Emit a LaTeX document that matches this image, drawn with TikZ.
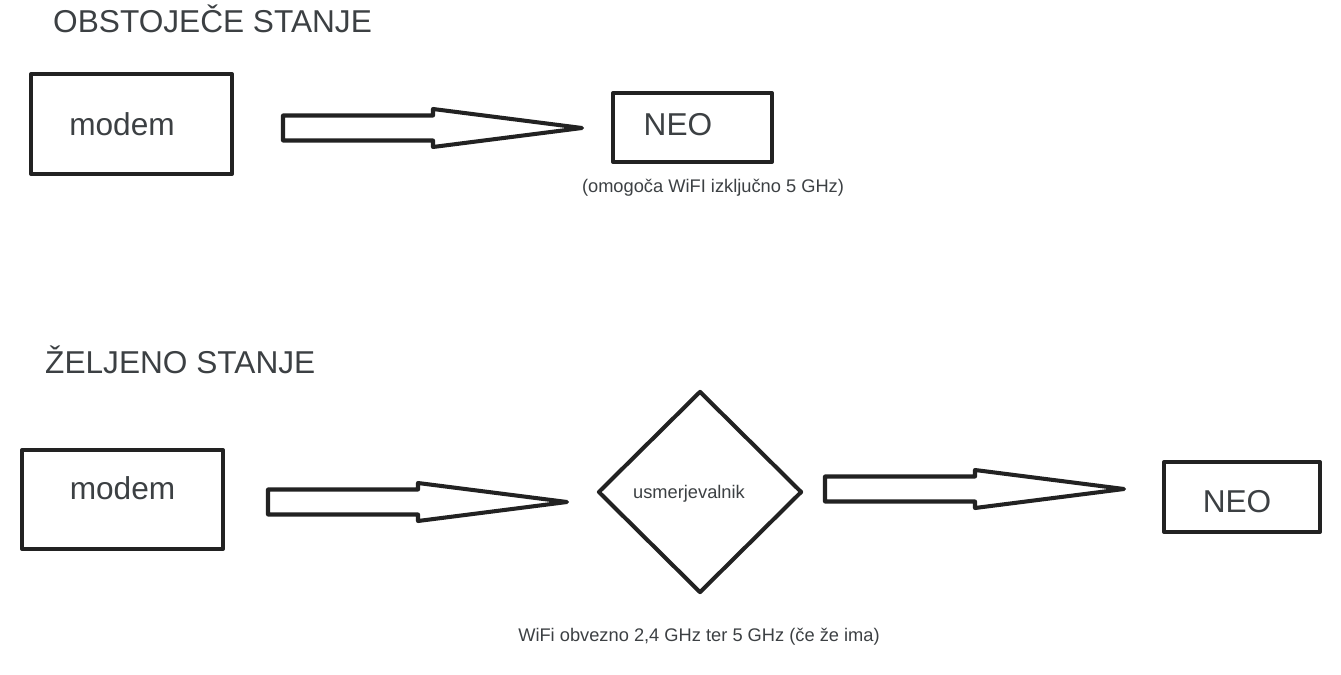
\documentclass[tikz,border=0pt]{standalone}
\usepackage{fontspec}
\setmainfont{Liberation Sans}
\usetikzlibrary{shapes.geometric}
\definecolor{inkline}{HTML}{222222}
\definecolor{inktext}{HTML}{3C4043}

\begin{document}
\begin{tikzpicture}[
    x=0.02cm, y=-0.02cm,
    font=\fontsize{10.4pt}{12pt}\selectfont,
    text=inktext,
    outline/.style={draw=inkline, line width=2.3pt, line join=round, fill=white},
    devbox/.style={outline, rectangle, inner sep=0pt},
    routerbox/.style={outline, diamond, inner sep=0pt, minimum width=4.08cm, minimum height=4.04cm},
    bigtext/.style={font=\fontsize{18pt}{21pt}\selectfont},
    heading/.style={anchor=base west, font=\fontsize{18pt}{21pt}\selectfont},
    note/.style={font=\fontsize{10.4pt}{12pt}\selectfont},
    pics/fatarrow/.style={code={
        \draw[outline] (0,-12.5) -- (150,-12.5) -- (150,-19) -- (299,0) -- (150,19) -- (150,12.5) -- (0,12.5) -- cycle;
    }}
]

    \useasboundingbox (0,0) rectangle (1341,675);

    % Obstoječe stanje
    \node[heading] (titleA) at (47,33) {OBSTOJEČE STANJE};
    \node[devbox, minimum width=4.02cm, minimum height=2.0cm, label={[bigtext, xshift=-0.19cm]center:modem}] (modemA) at (131.5,124) {};
    \pic (arrA) at (283,128) {fatarrow};
    \node[devbox, minimum width=3.18cm, minimum height=1.38cm, label={[bigtext, xshift=-0.29cm, yshift=0.05cm]center:NEO}] (neoA) at (692.5,127.5) {};
    \node[note] (noteA) at (713,188) {(omogoča WiFI izključno 5 GHz)};

    % Željeno stanje
    \node[heading] (titleB) at (39,373) {ŽELJENO STANJE};
    \node[devbox, minimum width=4.02cm, minimum height=1.98cm, label={[bigtext, yshift=0.23cm]center:modem}] (modemB) at (122.5,499.5) {};
    \pic (arrB) at (268,502) {fatarrow};
    \node[routerbox, label={[note, xshift=-0.22cm, yshift=-0.04cm]center:usmerjevalnik}] (router) at (700,492) {};
    \pic (arrC) at (825,489) {fatarrow};
    \node[devbox, minimum width=3.12cm, minimum height=1.4cm, label={[bigtext, xshift=-0.1cm, yshift=-0.1cm]center:NEO}] (neoB) at (1242,497) {};
    \node[note] (noteB) at (699,637) {WiFi obvezno 2,4 GHz ter 5 GHz (če že ima)};

\end{tikzpicture}
\end{document}
